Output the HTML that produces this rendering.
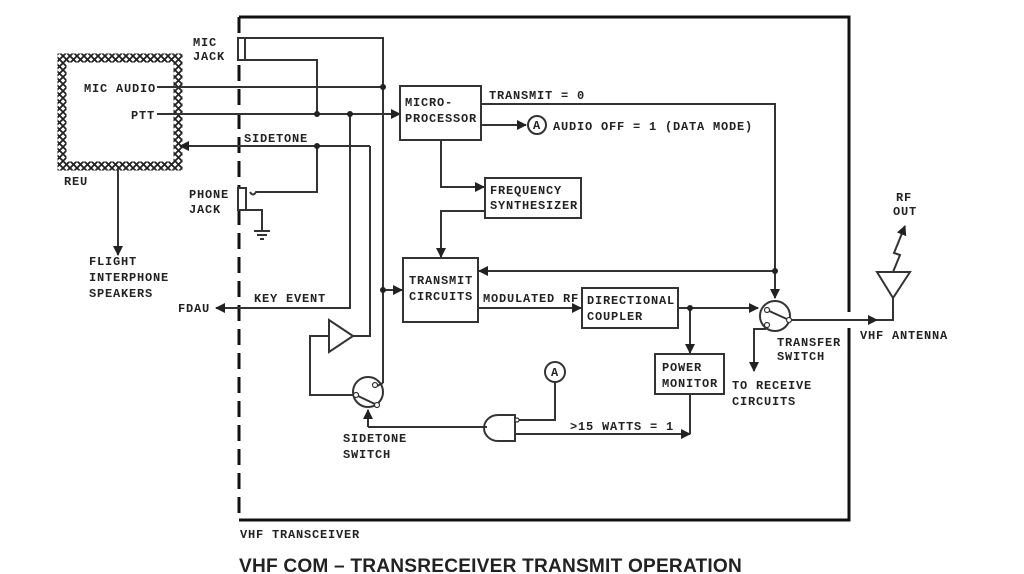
<!DOCTYPE html>
<html><head><meta charset="utf-8"><style>
html,body{margin:0;padding:0;background:#fff}
svg{display:block}
text{font-family:"Liberation Mono",monospace;font-size:12px;font-weight:bold;fill:#222;letter-spacing:0.8px}
.t{font-family:"Liberation Sans",sans-serif;font-size:19px;font-weight:bold;letter-spacing:0.2px}
</style></head><body>
<svg width="1024" height="574" viewBox="0 0 1024 574" xmlns="http://www.w3.org/2000/svg">
<defs>
<marker id="a" viewBox="0 0 10 10" refX="9" refY="5" markerWidth="5" markerHeight="5" orient="auto"><path d="M0,0L10,5L0,10z" fill="#222"/></marker>
<pattern id="h" width="7" height="7" patternUnits="userSpaceOnUse"><path d="M0,0L7,7M7,0L0,7" stroke="#222" stroke-width="1.8"/></pattern>
</defs>
<g fill="none" stroke="#333" stroke-width="2">
<path d="M239,17H849V312M849,328V520H239" stroke="#111" stroke-width="3"/>
<path d="M239,17V520" stroke="#111" stroke-width="3" stroke-dasharray="16,8"/>
<rect x="62" y="58" width="116" height="108" stroke="url(#h)" stroke-width="9"/>
<line x1="118" y1="166" x2="118" y2="255" marker-end="url(#a)"/>
<rect x="238" y="38" width="7" height="22" fill="#fff"/>
<path d="M245,38H383V383"/>
<path d="M245,60H317V114"/>
<line x1="157" y1="87" x2="383" y2="87"/>
<line x1="157" y1="114" x2="400" y2="114" marker-end="url(#a)"/>
<path d="M350,114V308H216" marker-end="url(#a)"/>
<path d="M370,146H180" marker-end="url(#a)"/>
<path d="M370,146V336H353"/>
<rect x="238" y="188" width="8" height="22" fill="#fff"/>
<path d="M250,192q3,5 6,0H317V146"/>
<path d="M246,210H262V230M254,231H270M257,235H267M260,239H264"/>
<path d="M329,320L353,336L329,352Z"/>
<path d="M329,336H310V395H354"/>
<circle cx="368" cy="392" r="15"/>
<path d="M356,395L377,405" />
<path d="M383,383L377,386"/>
<path d="M368,427V410" marker-end="url(#a)"/>
<path d="M368,427H487"/>
<path d="M515,415H498A14,13 0 0 0 498,441H515Z"/>
<path d="M518,420H555V382"/>
<circle cx="555" cy="372" r="10"/>
<path d="M515,434H690" marker-end="url(#a)"/>
<path d="M690,394V434"/>
<rect x="400" y="86" width="81" height="54"/>
<path d="M481,104H775V298" marker-end="url(#a)"/>
<path d="M481,125H526" marker-end="url(#a)"/>
<circle cx="537" cy="125" r="9"/>
<path d="M441,140V187H484" marker-end="url(#a)"/>
<rect x="485" y="178" width="96" height="40"/>
<path d="M485,211H441V257" marker-end="url(#a)"/>
<rect x="403" y="258" width="75" height="64"/>
<path d="M383,290H402" marker-end="url(#a)"/>
<path d="M775,271H479" marker-end="url(#a)"/>
<path d="M478,308H581" marker-end="url(#a)"/>
<rect x="582" y="288" width="96" height="40"/>
<path d="M678,308H758" marker-end="url(#a)"/>
<path d="M690,308V353" marker-end="url(#a)"/>
<rect x="655" y="354" width="69" height="40"/>
<circle cx="775" cy="316" r="15"/>
<path d="M767,310L789,320"/>
<path d="M790,320H893V298" />
<path d="M860,320H877" marker-end="url(#a)"/>
<path d="M766,329H754V371" marker-end="url(#a)"/>
<path d="M877,272H910L893,298Z"/>
<path d="M893,272L900,255L894,253L905,226" marker-end="url(#a)"/>
</g>
<g fill="#222">
<circle cx="383" cy="87" r="3"/><circle cx="317" cy="114" r="3"/><circle cx="350" cy="114" r="3"/>
<circle cx="317" cy="146" r="3"/><circle cx="383" cy="290" r="3"/><circle cx="775" cy="271" r="3"/>
<circle cx="690" cy="308" r="3"/>
</g>
<g fill="#fff" stroke="#333" stroke-width="1.2">
<circle cx="375" cy="385" r="2.5"/><circle cx="356" cy="395" r="2.5"/><circle cx="377" cy="405" r="2.5"/>
<circle cx="767" cy="310" r="2.5"/><circle cx="789" cy="320" r="2.5"/><circle cx="767" cy="325" r="2.5"/>
<circle cx="517" cy="420" r="2"/>
</g>
<text x="193" y="46">MIC</text><text x="193" y="60">JACK</text>
<text x="84" y="92">MIC AUDIO</text>
<text x="131" y="119">PTT</text>
<text x="244" y="142">SIDETONE</text>
<text x="64" y="185">REU</text>
<text x="189" y="198">PHONE</text><text x="189" y="213">JACK</text>
<text x="89" y="265">FLIGHT</text><text x="89" y="281">INTERPHONE</text><text x="89" y="297">SPEAKERS</text>
<text x="178" y="312">FDAU</text>
<text x="254" y="302">KEY EVENT</text>
<text x="343" y="442">SIDETONE</text><text x="343" y="458">SWITCH</text>
<text x="405" y="106">MICRO-</text><text x="405" y="122">PROCESSOR</text>
<text x="489" y="99">TRANSMIT = 0</text>
<text x="533" y="129" font-size="10" letter-spacing="0">A</text>
<text x="553" y="130">AUDIO OFF = 1 (DATA MODE)</text>
<text x="490" y="194">FREQUENCY</text><text x="490" y="209">SYNTHESIZER</text>
<text x="409" y="284">TRANSMIT</text><text x="409" y="300">CIRCUITS</text>
<text x="483" y="302">MODULATED RF</text>
<text x="587" y="304">DIRECTIONAL</text><text x="587" y="320">COUPLER</text>
<text x="662" y="371">POWER</text><text x="662" y="387">MONITOR</text>
<text x="551" y="376" font-size="10" letter-spacing="0">A</text>
<text x="570" y="430">&gt;15 WATTS = 1</text>
<text x="777" y="346">TRANSFER</text><text x="777" y="360">SWITCH</text>
<text x="732" y="389">TO RECEIVE</text><text x="732" y="405">CIRCUITS</text>
<text x="860" y="339">VHF ANTENNA</text>
<text x="896" y="201">RF</text><text x="893" y="215">OUT</text>
<text x="240" y="538" font-weight="normal">VHF TRANSCEIVER</text>
<text class="t" x="239" y="572" textLength="503" lengthAdjust="spacingAndGlyphs">VHF COM – TRANSRECEIVER TRANSMIT OPERATION</text>
</svg>
</body></html>
